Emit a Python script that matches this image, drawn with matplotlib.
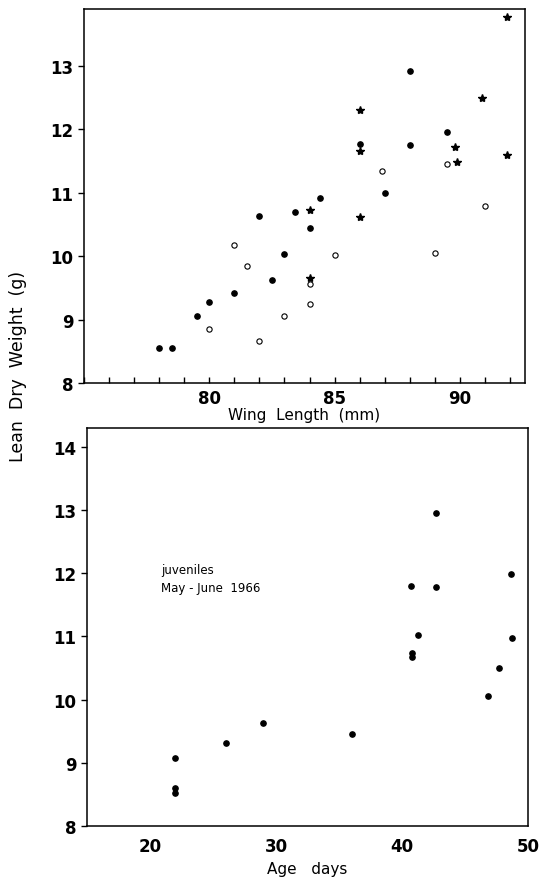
import matplotlib.pyplot as plt
from matplotlib.ticker import MultipleLocator

# wing length (mm) vs lean dry weight (g), three groups
wing_filled = [78.0, 78.5, 79.5, 80.0, 81.0, 82.0, 82.5, 83.0, 83.4, 84.0, 84.4, 86.0, 87.0, 88.0, 88.0, 89.5]
wt_filled = [8.55, 8.56, 9.06, 9.28, 9.42, 10.63, 9.62, 10.04, 10.70, 10.44, 10.92, 11.77, 10.99, 12.93, 11.75, 11.96]

wing_open = [80.0, 81.0, 81.5, 82.0, 83.0, 84.0, 84.0, 85.0, 86.9, 89.0, 89.5, 91.0]
wt_open = [8.85, 10.18, 9.84, 8.67, 9.05, 9.57, 9.24, 10.02, 11.35, 10.05, 11.45, 10.80]

wing_star = [84.0, 84.0, 86.0, 86.0, 86.0, 90.9, 89.8, 89.9, 91.9, 91.9]
wt_star = [10.73, 9.65, 10.62, 11.66, 12.31, 12.49, 11.72, 11.49, 11.60, 13.78]

wing_ticks = [80, 85, 90]

# juveniles: age (days) vs lean dry weight (g)
age = [22, 22, 22, 26, 29, 36, 40.7, 40.8, 40.8, 41.3, 42.7, 42.7, 46.8, 47.7, 48.6, 48.7]
wt_age = [9.07, 8.60, 8.53, 9.31, 9.63, 9.45, 11.80, 10.74, 10.68, 11.03, 11.79, 12.95, 10.05, 10.50, 11.99, 10.97]

plt.rcParams['font.family'] = 'DejaVu Sans'

fig = plt.figure(figsize=(5.39, 8.78), dpi=100)

# upper panel
ax1 = fig.add_axes([0.156, 0.5626, 0.818, 0.426])
ax1.plot(wing_filled, wt_filled, 'o', color='black', ms=3.8)
ax1.plot(wing_open, wt_open, 'o', mfc='white', mec='black', mew=0.8, ms=3.8)
ax1.plot(wing_star, wt_star, '*', color='black', ms=6)
ax1.set_xlim(75, 92.6)
ax1.set_ylim(8, 13.9)
ax1.set_xticks(wing_ticks)
ax1.xaxis.set_minor_locator(MultipleLocator(1))
ax1.yaxis.set_major_locator(MultipleLocator(1))
ax1.tick_params(axis='x', which='both', direction='in', length=4, width=1, labelsize=12, pad=4)
ax1.tick_params(axis='y', direction='out', length=4, width=1, labelsize=12)
ax1.set_xlabel('Wing  Length  (mm)', fontsize=11, labelpad=0)

# lower panel
ax2 = fig.add_axes([0.161, 0.0581, 0.819, 0.4533])
ax2.plot(age, wt_age, 'o', color='black', ms=3.8)
ax2.set_xlim(15, 50)
ax2.set_ylim(8, 14.3)
ax2.xaxis.set_major_locator(MultipleLocator(10))
ax2.yaxis.set_major_locator(MultipleLocator(1))
ax2.tick_params(axis='x', length=0, labelsize=12, pad=8)
ax2.tick_params(axis='y', direction='out', length=4, width=1, labelsize=12)
ax2.set_xlabel('Age   days', fontsize=11, labelpad=4)
ax2.text(0.168, 0.66, 'juveniles\nMay - June  1966', transform=ax2.transAxes,
         fontsize=8.5, va='top', linespacing=1.5)

for ax in (ax1, ax2):
    for s in ax.spines.values():
        s.set_linewidth(1.1)
    for lbl in ax.get_xticklabels() + ax.get_yticklabels():
        lbl.set_fontweight('bold')

fig.text(0.033, 0.583, 'Lean  Dry  Weight  (g)', rotation=90, fontsize=12.5,
         ha='center', va='center')

fig.savefig('out.png', dpi=100)
